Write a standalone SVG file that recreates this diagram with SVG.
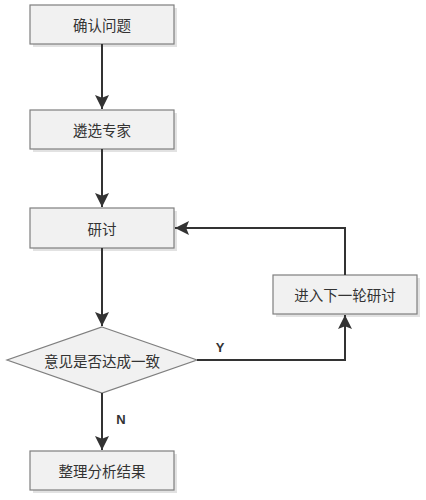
<svg xmlns="http://www.w3.org/2000/svg" width="426" height="500" viewBox="0 0 426 500">
<defs>
<marker id="ah" viewBox="0 0 10 10" refX="10" refY="5" markerWidth="7" markerHeight="7" markerUnits="strokeWidth" orient="auto">
<path d="M0,0 L10,5 L0,10 L2,5 Z" fill="#333"/>
</marker>
</defs>
<style>
.box{fill:#f1f1f1;stroke:#7f7f7f;stroke-width:1.2}
.sh{fill:#e2e2e2}
.t{font-family:"Noto Sans CJK SC","Noto Sans",sans-serif;font-size:14.5px;fill:#333;text-anchor:middle;dominant-baseline:central}
.lb{font-family:"Liberation Sans",Arial,sans-serif;font-size:13px;font-weight:bold;fill:#333;text-anchor:middle;dominant-baseline:central}
.c{fill:none;stroke:#333;stroke-width:2;marker-end:url(#ah)}
</style>
<g id="n1"><rect class="sh" x="33" y="8" width="144" height="39"/><rect class="box" x="30" y="5" width="144" height="39"/><text class="t" x="102" y="24.5">确认问题</text></g>
<g id="n2"><rect class="sh" x="33" y="113" width="144" height="39"/><rect class="box" x="30" y="110" width="144" height="39"/><text class="t" x="102" y="129.5">遴选专家</text></g>
<g id="n3"><rect class="sh" x="33" y="211" width="144" height="40"/><rect class="box" x="30" y="208" width="144" height="40"/><text class="t" x="102" y="228">研讨</text></g>
<g id="n4"><polygon points="102,327 197,360 102,393 7,360" fill="#f1f1f1" stroke="#7f7f7f" stroke-width="1.2"/><text class="t" x="102" y="360">意见是否达成一致</text></g>
<g id="n5"><rect class="sh" x="276" y="278" width="144" height="39"/><rect class="box" x="273" y="275" width="144" height="39"/><text class="t" x="345" y="294.5">进入下一轮研讨</text></g>
<g id="n6"><rect class="sh" x="33" y="454" width="144" height="39"/><rect class="box" x="30" y="451" width="144" height="39"/><text class="t" x="102" y="470.5">整理分析结果</text></g>
<g id="connectors">
<path class="c" d="M102,44 V109"/>
<path class="c" d="M102,149 V207"/>
<path class="c" d="M102,248 V326"/>
<path class="c" d="M197,360 H345 V315"/>
<path class="c" d="M345,275 V228 H175"/>
<path class="c" d="M102,393 V450"/>
<text class="lb" x="220" y="347">Y</text>
<text class="lb" x="121" y="419">N</text>
</g>
</svg>
